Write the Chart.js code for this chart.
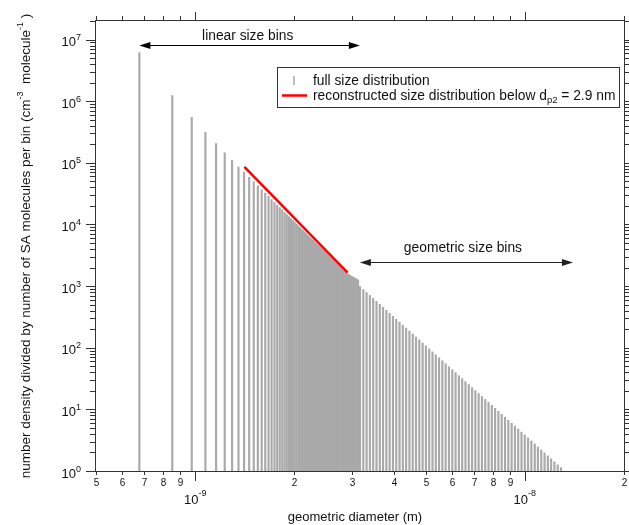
<!DOCTYPE html>
<html lang="en">
<head>
<meta charset="UTF-8" />
<title>Size distribution per bin – linear and geometric size bins</title>
<script src="https://cdn.jsdelivr.net/npm/chart.js"></script>
<style>
  html, body { margin: 0; padding: 0; background: #fff; }
  #wrap { width: 629px; height: 525px; }
</style>
</head>
<body>
<div id="wrap"><canvas id="sizeDist"></canvas></div>
<script>
// linear size bins (n = 1 ... 98 molecules), diameter in nm
const linDiam = [
  0.677, 0.852, 0.976, 1.074, 1.157, 1.229, 1.294, 1.353, 1.407, 1.458,
  1.505, 1.549, 1.591, 1.631, 1.669, 1.705, 1.740, 1.773, 1.805, 1.837,
  1.867, 1.896, 1.924, 1.952, 1.978, 2.004, 2.030, 2.055, 2.079, 2.102,
  2.125, 2.148, 2.170, 2.192, 2.213, 2.234, 2.255, 2.275, 2.295, 2.314,
  2.333, 2.352, 2.370, 2.389, 2.407, 2.424, 2.442, 2.459, 2.476, 2.493,
  2.509, 2.525, 2.542, 2.557, 2.573, 2.589, 2.604, 2.619, 2.634, 2.649,
  2.663, 2.678, 2.692, 2.706, 2.720, 2.734, 2.748, 2.762, 2.775, 2.788,
  2.802, 2.815, 2.828, 2.841, 2.853, 2.866, 2.878, 2.891, 2.903, 2.915,
  2.927, 2.939, 2.951, 2.963, 2.975, 2.987, 2.998, 3.010, 3.021, 3.032,
  3.043, 3.054, 3.065, 3.076, 3.087, 3.098, 3.109, 3.119
];
const linValue = [
  6.15e6, 1.23e6, 5.47e5, 3.13e5, 2.05e5, 1.45e5, 1.10e5, 8.55e4, 7.00e4, 5.81e4,
  4.91e4, 4.22e4, 3.66e4, 3.22e4, 2.85e4, 2.54e4, 2.29e4, 2.07e4, 1.88e4, 1.72e4,
  1.58e4, 1.45e4, 1.34e4, 1.25e4, 1.16e4, 1.08e4, 1.01e4, 9490, 8920, 8410,
  7930, 7510, 7110, 6750, 6410, 6100, 5810, 5550, 5300, 5070,
  4850, 4650, 4460, 4280, 4120, 3960, 3810, 3680, 3540, 3420,
  3300, 3190, 3090, 2990, 2890, 2800, 2720, 2640, 2560, 2480,
  2410, 2340, 2280, 2220, 2160, 2100, 2040, 1990, 1940, 1890,
  1850, 1800, 1760, 1720, 1680, 1640, 1600, 1560, 1545, 1530,
  1510, 1490, 1470, 1450, 1440, 1420, 1400, 1390, 1370, 1360,
  1340, 1330, 1310, 1300, 1280, 1270, 1260, 1245
];

// geometric size bins, diameter in nm
const geoDiam = [
  3.162, 3.236, 3.311, 3.388, 3.467, 3.548, 3.631, 3.715, 3.802, 3.890,
  3.981, 4.074, 4.169, 4.266, 4.365, 4.467, 4.571, 4.677, 4.786, 4.898,
  5.012, 5.129, 5.248, 5.370, 5.495, 5.623, 5.754, 5.888, 6.026, 6.166,
  6.310, 6.457, 6.607, 6.761, 6.918, 7.079, 7.244, 7.413, 7.586, 7.762,
  7.943, 8.128, 8.318, 8.511, 8.710, 8.913, 9.120, 9.333, 9.550, 9.772,
  10.00, 10.23, 10.47, 10.72, 10.96, 11.22, 11.48, 11.75, 12.02, 12.30,
  12.59, 12.88
];
const geoValue = [
  984, 881, 788, 705, 631, 565, 506, 452, 405, 362,
  324, 290, 260, 232, 208, 186, 167, 149, 134, 119,
  107, 95.7, 85.6, 76.6, 68.6, 61.4, 54.9, 49.2, 44.0, 39.4,
  35.2, 31.5, 28.2, 25.3, 22.6, 20.2, 18.1, 16.2, 14.5, 13.0,
  11.6, 10.4, 9.30, 8.33, 7.45, 6.67, 5.97, 5.34, 4.78, 4.28,
  3.83, 3.43, 3.07, 2.74, 2.46, 2.20, 1.97, 1.76, 1.58, 1.41,
  1.26, 1.13
];

// reconstructed size distribution below dp2 = 2.9 nm
const reconDiam = [1.41, 2.9];
const reconValue = [8.6e4, 1.65e3];

// axis ticks (x in nm)
const xTickValues = [0.5, 0.6, 0.7, 0.8, 0.9, 1, 2, 3, 4, 5, 6, 7, 8, 9, 10, 20];
const xDigitLabels = ['5', '6', '7', '8', '9', '', '2', '3', '4', '5', '6', '7', '8', '9', '', '2'];
const xDecades = [1, 10];
const xDecadeExp = ['-9', '-8'];
const yDecades = [1, 10, 100, 1e3, 1e4, 1e5, 1e6, 1e7];
const yDecadeExp = ['0', '1', '2', '3', '4', '5', '6', '7'];

const FONT = '"Liberation Sans", Arial, sans-serif';
const GRAY = '#a9a9a9';
const TXT = 13.8;

function richText(ctx, x, y, parts, align) {
  let w = 0;
  parts.forEach(p => {
    ctx.font = p.size + 'px ' + FONT;
    p.w = ctx.measureText(p.t).width;
    w += p.w;
  });
  let cx = align === 'center' ? x - w / 2 : align === 'right' ? x - w : x;
  ctx.textAlign = 'left';
  ctx.textBaseline = 'alphabetic';
  parts.forEach(p => {
    ctx.font = p.size + 'px ' + FONT;
    ctx.fillText(p.t, cx, y + (p.dy || 0));
    cx += p.w;
  });
}

function arrow(ctx, x1, x2, yy, color) {
  ctx.strokeStyle = color;
  ctx.fillStyle = color;
  ctx.lineWidth = 1;
  ctx.beginPath();
  ctx.moveTo(x1 + 8, yy);
  ctx.lineTo(x2 - 8, yy);
  ctx.stroke();
  [[x1, 1], [x2, -1]].forEach(([tx, dir]) => {
    ctx.beginPath();
    ctx.moveTo(tx, yy);
    ctx.lineTo(tx + dir * 11, yy - 3.5);
    ctx.lineTo(tx + dir * 11, yy + 3.5);
    ctx.closePath();
    ctx.fill();
  });
}

const decor = {
  id: 'decor',
  afterDatasetsDraw(chart) {
    const { ctx, chartArea: a, scales: { x, y } } = chart;
    ctx.save();
    ctx.strokeStyle = '#333';
    ctx.fillStyle = '#111';
    ctx.lineWidth = 1;

    // frame
    ctx.strokeRect(a.left - 0.5, a.top - 0.5, a.right - a.left + 1, a.bottom - a.top + 1);

    // x ticks top and bottom
    xTickValues.forEach((v, i) => {
      const px = Math.round(x.getPixelForValue(v)) + 0.5;
      const major = xDecades.includes(v);
      ctx.beginPath();
      ctx.moveTo(px, a.bottom);
      ctx.lineTo(px, a.bottom + (major ? 10 : 4));
      ctx.moveTo(px, a.top);
      ctx.lineTo(px, a.top - (major ? 9 : 5));
      ctx.stroke();
      if (xDigitLabels[i]) {
        ctx.font = '10px ' + FONT;
        ctx.textAlign = 'center';
        ctx.textBaseline = 'alphabetic';
        ctx.fillText(xDigitLabels[i], px, a.bottom + 15);
      }
    });
    xDecades.forEach((v, i) => {
      const px = x.getPixelForValue(v);
      richText(ctx, px, a.bottom + 33, [
        { t: '10', size: 13 },
        { t: xDecadeExp[i], size: 9, dy: -8 }
      ], 'center');
    });

    // y ticks left and right
    yDecades.forEach((dec, i) => {
      for (let m = 1; m <= 9; m++) {
        const v = dec * m;
        if (v > y.max) break;
        const py = Math.round(y.getPixelForValue(v)) + 0.5;
        const len = m === 1 ? 10 : 6;
        ctx.beginPath();
        ctx.moveTo(a.left, py);
        ctx.lineTo(a.left - len, py);
        ctx.moveTo(a.right, py);
        ctx.lineTo(a.right + len, py);
        ctx.stroke();
      }
      const py = y.getPixelForValue(dec);
      richText(ctx, 81, py + 6.5, [
        { t: '10', size: 13 },
        { t: yDecadeExp[i], size: 9, dy: -6 }
      ], 'right');
    });

    // axis titles
    ctx.fillStyle = '#111';
    ctx.font = '13px ' + FONT;
    ctx.textAlign = 'center';
    ctx.textBaseline = 'middle';
    ctx.fillText('geometric diameter (m)', 355, 517);

    ctx.save();
    ctx.translate(29.5, 246);
    ctx.rotate(-Math.PI / 2);
    richText(ctx, 0, 0, [
      { t: 'number density divided by number of SA molecules per bin (cm', size: 13.5 },
      { t: '-3', size: 9, dy: -7 },
      { t: '  molecule', size: 13.5 },
      { t: '-1', size: 9, dy: -7 },
      { t: ' )', size: 13.5 }
    ], 'center');
    ctx.restore();

    // size bin annotations
    const ax1 = x.getPixelForValue(0.677), ax2 = x.getPixelForValue(3.16), ax3 = x.getPixelForValue(14.0);
    arrow(ctx, ax1, ax2, Math.round(y.getPixelForValue(8.1e6)) + 0.5, '#000');
    arrow(ctx, ax2, ax3, Math.round(y.getPixelForValue(2.48e3)) + 0.5, '#222');
    ctx.fillStyle = '#111';
    richText(ctx, x.getPixelForValue(1.443), y.getPixelForValue(1.0e7), [{ t: 'linear size bins', size: TXT }], 'center');
    richText(ctx, x.getPixelForValue(6.49), y.getPixelForValue(3.51e3), [{ t: 'geometric size bins', size: TXT }], 'center');

    // legend
    ctx.fillStyle = '#fff';
    ctx.fillRect(277.5, 67.5, 342, 40);
    ctx.strokeStyle = '#333';
    ctx.strokeRect(277.5, 67.5, 342, 40);
    ctx.strokeStyle = GRAY;
    ctx.lineWidth = 1.5;
    ctx.beginPath();
    ctx.moveTo(294, 76);
    ctx.lineTo(294, 85);
    ctx.stroke();
    ctx.strokeStyle = '#ff0000';
    ctx.lineWidth = 2.5;
    ctx.beginPath();
    ctx.moveTo(282, 95.5);
    ctx.lineTo(307, 95.5);
    ctx.stroke();
    ctx.fillStyle = '#111';
    richText(ctx, 313, 84.5, [{ t: 'full size distribution', size: TXT }], 'left');
    richText(ctx, 313, 99.5, [
      { t: 'reconstructed size distribution below d', size: TXT },
      { t: 'p2', size: 9.5, dy: 3 },
      { t: ' = 2.9 nm', size: TXT }
    ], 'left');
    ctx.restore();
  }
};

const barData = linDiam.map((d, i) => ({ x: d, y: linValue[i] }))
  .concat(geoDiam.map((d, i) => ({ x: d, y: geoValue[i] })));
const reconData = reconDiam.map((d, i) => ({ x: d, y: reconValue[i] }));

new Chart(document.getElementById('sizeDist'), {
  type: 'bar',
  data: {
    datasets: [
      {
        type: 'line',
        label: 'reconstructed size distribution below dp2 = 2.9 nm',
        data: reconData,
        borderColor: '#ff0000',
        borderWidth: 2.5,
        pointRadius: 0,
        borderCapStyle: 'butt',
        order: 1
      },
      {
        type: 'bar',
        label: 'full size distribution',
        data: barData,
        backgroundColor: GRAY,
        borderWidth: 0,
        barThickness: 1.5,
        order: 2
      }
    ]
  },
  options: {
    responsive: true,
    maintainAspectRatio: false,
    animation: false,
    events: [],
    layout: { padding: { left: 96, top: 21, right: 5, bottom: 54 } },
    plugins: { legend: { display: false }, tooltip: { enabled: false } },
    scales: {
      x: { type: 'logarithmic', min: 0.5, max: 20, display: false },
      y: { type: 'logarithmic', min: 1, max: 2e7, display: false }
    }
  },
  plugins: [decor]
});
</script>
</body>
</html>
